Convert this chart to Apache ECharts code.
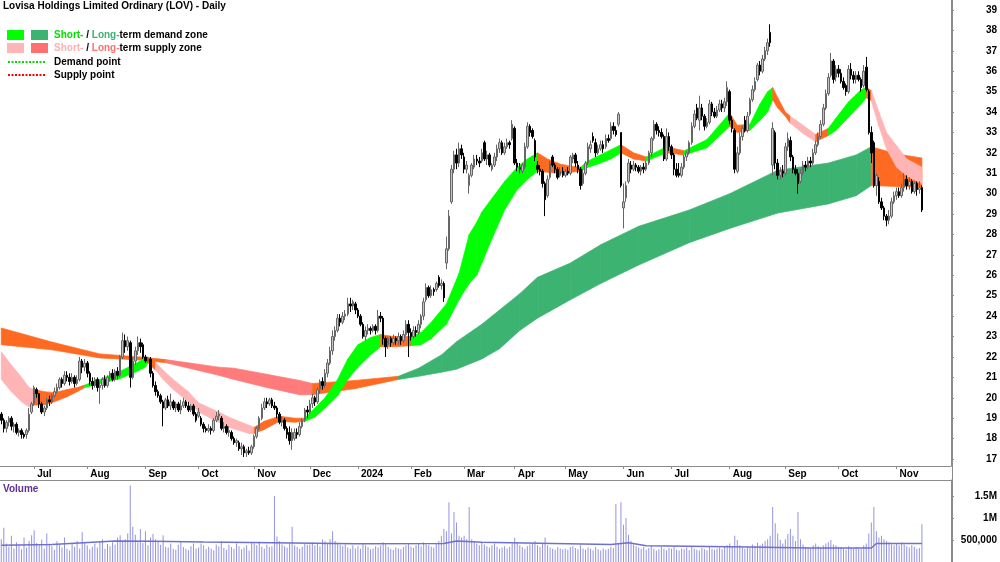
<!DOCTYPE html>
<html><head><meta charset="utf-8">
<script src="https://cdn.jsdelivr.net/npm/echarts@6.0.0/dist/echarts.min.js"></script>
<style>html,body{margin:0;padding:0;background:#fff}#c{width:1000px;height:562px}</style>
</head><body><div id="c"></div>
<script>
const TITLE = 'Lovisa Holdings Limited Ordinary (LOV) - Daily';
const holidays = ['2023-12-25','2023-12-26','2024-01-01','2024-01-26','2024-03-29','2024-04-01','2024-04-25','2024-06-10'];
const monthAbbr = ['Jan','Feb','Mar','Apr','May','Jun','Jul','Aug','Sep','Oct','Nov','Dec'];
const priceTicks = [17,18,19,20,21,22,23,24,25,26,27,28,29,30,31,32,33,34,35,36,37,38,39];
const volTicks = [500000,1000000,1500000];
const volTickLabels = {500000:'500,000',1000000:'1M',1500000:'1.5M'};

// OHLC rows: [open, close, low, high], grouped by month
const jun23 = [[19.2,18.9,18.7,19.3],[18.9,18.5,18.3,19.0],[18.5,18.8,18.3,18.9],[18.8,19.0,18.6,19.1],[19.0,18.6,18.4,19.1],[18.6,18.7,18.3,18.8],[18.7,18.3,18.2,18.8],[18.3,18.4,18.1,18.5],[18.4,18.2,18.0,18.5],[18.2,18.1,18.0,18.3],[18.2,18.4,18.0,18.5],[18.4,19.2,18.3,19.5],[19.3,19.7,19.2,19.8]];
const jul23 = [[19.7,20.5,19.6,20.6],[20.4,20.2,20.0,20.5],[20.2,19.7,19.5,20.2],[19.7,19.3,19.2,19.8],[19.3,19.5,19.1,19.6],[19.5,19.9,19.4,20.0],[19.9,19.8,19.6,20.1],[19.8,20.1,19.7,20.2],[20.1,20.3,20.0,20.5],[20.3,20.5,20.2,20.7],[20.5,20.9,20.4,21.0],[20.9,20.7,20.5,21.0],[20.7,21.1,20.6,21.3],[21.1,21.0,20.8,21.3],[21.0,20.8,20.6,21.2],[20.8,21.0,20.7,21.2],[21.0,20.7,20.5,21.1],[20.7,20.9,20.6,21.1],[20.9,21.8,20.8,22.0],[21.8,21.5,21.2,21.9],[21.5,21.7,21.3,21.9]];
const aug23 = [[21.7,21.2,21.0,21.8],[21.2,20.8,20.6,21.3],[20.8,20.6,20.4,21.0],[20.6,20.9,20.5,21.0],[20.9,20.5,20.3,21.0],[20.5,20.6,19.7,20.8],[20.6,20.9,20.4,21.0],[20.9,20.6,20.5,21.1],[20.6,21.0,20.5,21.1],[21.0,21.2,20.8,21.3],[21.2,20.9,20.8,21.4],[20.9,21.3,20.8,21.4],[21.3,21.1,20.9,21.5],[21.1,22.0,21.0,22.1],[22.0,22.8,21.9,23.2],[22.8,22.5,22.2,23.1],[22.5,22.8,22.3,23.0],[22.7,21.0,20.5,22.8],[21.0,21.8,20.9,22.0],[21.8,22.3,21.6,22.5],[22.3,22.7,22.1,23.0],[22.7,22.5,22.2,22.9],[22.6,22.0,21.9,22.7]];
const sep23 = [[22.0,21.8,21.7,22.1],[21.8,21.9,21.7,22.0],[21.9,21.2,21.0,22.0],[21.2,20.6,20.5,21.3],[20.6,20.3,20.1,20.8],[20.3,20.1,20.0,20.4],[20.1,19.8,19.7,20.2],[19.8,19.5,18.6,19.9],[19.5,19.9,19.4,20.0],[19.9,19.6,19.5,20.1],[19.6,19.8,19.4,20.2],[19.8,19.5,19.4,19.9],[19.5,19.7,19.3,19.8],[19.7,19.4,19.3,19.8],[19.4,19.6,19.2,19.9],[19.6,19.8,19.5,20.0],[19.8,19.6,19.5,19.9],[19.6,19.4,19.3,19.8],[19.4,19.6,19.3,19.7],[19.6,19.2,19.1,19.7],[19.2,18.9,18.8,19.3]];
const oct23 = [[19.1,19.3,19.0,19.5],[19.0,18.7,18.6,19.1],[18.7,18.5,18.3,18.8],[18.5,18.4,18.3,18.6],[18.4,18.5,18.3,18.7],[18.5,18.4,18.2,18.6],[18.4,18.9,18.3,19.0],[18.9,19.1,18.8,19.3],[19.1,19.2,18.9,19.4],[19.0,18.5,18.4,19.1],[18.5,18.6,18.3,18.8],[18.6,18.3,18.2,18.7],[18.3,18.4,18.1,18.6],[18.3,18.0,17.9,18.4],[18.0,17.8,17.7,18.1],[17.8,17.9,17.6,18.0],[17.8,17.5,17.4,17.9],[17.5,17.6,17.2,17.8],[17.6,17.3,17.1,17.7],[17.3,17.4,17.1,17.5],[17.4,17.3,17.2,17.6],[17.3,17.6,17.2,17.7]];
const nov23 = [[17.6,18.1,17.5,18.2],[18.1,18.5,18.0,18.6],[18.5,19.0,18.4,19.1],[19.0,19.5,18.9,19.7],[19.5,19.8,19.4,20.0],[19.8,19.7,19.5,20.0],[19.7,19.9,19.6,20.0],[19.9,19.6,19.5,20.0],[19.6,19.5,19.4,19.8],[19.5,19.2,19.0,19.6],[19.2,18.8,18.7,19.3],[18.8,18.9,18.6,19.1],[18.9,18.5,18.4,19.0],[18.5,18.2,18.0,18.6],[18.3,17.9,17.7,18.6],[17.9,18.3,17.45,18.5],[18.0,18.3,17.9,18.5],[18.3,18.2,18.0,18.5],[18.2,18.6,18.1,18.8],[18.6,18.9,18.5,19.0],[18.9,19.4,18.8,19.5],[19.4,19.3,19.0,19.6]];
const dec23 = [[19.3,19.7,19.2,19.9],[19.7,20.0,19.5,20.2],[20.0,19.8,19.6,20.1],[19.8,20.4,19.7,20.5],[20.4,20.8,20.2,20.9],[20.8,20.6,20.4,21.0],[20.6,21.2,20.5,21.4],[21.2,21.7,21.0,21.9],[21.7,22.3,21.6,22.5],[22.3,23.0,22.1,23.3],[23.0,23.3,22.8,23.5],[23.3,23.9,23.2,24.1],[23.9,23.7,23.5,24.1],[23.7,24.0,23.6,24.2],[24.0,24.1,23.8,24.3],[24.1,24.6,24.0,24.9],[24.6,24.5,24.2,24.9],[24.5,24.7,24.3,24.8],[24.6,24.3,24.1,24.7]];
const jan24 = [[24.3,24.0,23.9,24.4],[24.0,23.6,23.5,24.1],[23.6,23.0,22.9,23.7],[23.0,23.3,22.8,23.5],[23.3,23.4,23.1,23.6],[23.4,23.3,23.1,23.5],[23.3,23.5,23.2,23.6],[23.5,23.3,23.1,23.6],[23.3,24.0,23.2,24.3],[24.0,23.9,23.7,24.2],[23.9,22.9,22.6,24.0],[22.9,22.5,22.0,23.0],[22.6,22.9,22.4,23.0],[22.9,22.7,22.5,23.0],[22.7,22.9,22.6,23.1],[22.9,22.8,22.6,23.0],[22.8,23.0,22.6,23.2],[23.0,22.8,22.6,23.1],[22.8,23.1,22.7,23.3],[23.1,23.6,23.0,23.8],[23.6,23.2,22.0,23.8]];
const feb24 = [[23.2,23.0,22.8,23.4],[23.0,23.3,22.9,23.5],[23.3,23.2,23.0,23.5],[23.2,23.6,23.1,23.8],[23.6,24.0,23.4,24.1],[24.0,24.7,23.8,24.9],[24.8,25.4,24.7,25.6],[25.4,25.0,24.9,25.5],[25.0,25.3,24.9,25.5],[25.3,25.2,25.0,25.4],[25.3,25.6,25.2,25.7],[25.9,25.5,25.4,26.0],[25.5,25.6,25.3,25.8],[25.6,24.9,24.7,25.7],[26.6,27.3,26.3,27.9],[27.3,28.9,27.2,29.2],[29.6,31.2,29.5,31.4],[31.2,31.9,31.0,32.1],[31.9,31.5,31.2,32.2],[31.5,32.2,31.3,32.5],[32.2,31.9,31.7,32.4]];
const mar24 = [[31.8,31.2,31.0,32.0],[31.2,31.4,31.0,31.6],[30.4,30.9,30.0,31.0],[30.9,31.4,30.8,31.5],[31.3,31.7,31.2,31.9],[31.7,31.6,31.4,31.9],[31.6,31.5,31.3,31.8],[31.6,32.0,31.5,32.2],[32.5,31.7,31.6,32.6],[31.7,31.9,31.4,32.1],[31.9,31.4,31.3,32.0],[31.2,31.4,31.1,31.5],[31.4,31.8,31.3,32.0],[31.8,32.2,31.6,32.4],[32.2,32.5,32.0,32.7],[32.5,32.0,31.9,32.6],[32.0,32.3,31.9,32.5],[32.3,32.5,32.2,32.7],[32.5,32.4,32.2,32.6],[32.7,33.4,32.6,33.6]];
const apr24 = [[33.2,31.5,31.4,33.3],[31.5,31.3,31.1,31.7],[31.3,31.2,31.0,31.5],[31.1,31.4,31.0,31.5],[31.3,32.3,31.2,32.5],[32.3,33.3,32.2,33.5],[33.3,33.0,32.8,33.4],[33.1,32.8,32.7,33.2],[32.6,31.8,31.6,32.7],[31.4,31.2,31.0,31.6],[31.2,31.1,30.9,31.4],[31.1,30.5,30.3,31.2],[30.5,29.7,28.9,30.6],[29.9,30.7,29.8,30.9],[30.8,31.5,30.7,31.6],[31.8,31.4,31.3,31.9],[31.4,31.2,31.0,31.5],[31.2,30.8,30.7,31.3],[30.9,31.1,30.8,31.3],[31.1,30.9,30.8,31.3]];
const may24 = [[30.9,31.1,30.8,31.2],[31.1,31.0,30.9,31.3],[31.0,31.8,30.9,31.9],[31.7,31.9,31.5,32.0],[31.9,31.5,31.3,32.0],[31.4,31.2,31.0,31.6],[31.2,30.4,30.2,31.3],[30.5,31.0,30.4,31.2],[31.0,31.5,30.9,31.6],[31.5,32.3,31.4,32.5],[32.2,32.4,32.0,32.6],[32.8,32.6,32.5,33.0],[32.5,32.0,31.8,32.7],[32.0,32.2,31.9,32.4],[32.2,32.4,32.1,32.6],[32.4,32.2,32.0,32.6],[32.3,32.7,32.2,32.9],[32.7,32.6,32.5,32.9],[32.7,33.3,32.6,33.5],[33.3,33.1,32.9,33.5],[33.1,32.9,32.8,33.3],[33.4,33.9,33.3,34.0],[33.0,30.4,30.3,33.0]];
const jun24 = [[29.3,29.6,28.3,30.5],[29.8,30.4,29.6,30.6],[30.6,31.5,30.5,31.7],[31.4,31.2,31.0,31.6],[31.2,31.4,31.1,31.6],[31.4,31.3,31.1,31.5],[31.3,31.1,31.0,31.4],[31.1,31.3,30.9,31.4],[31.3,31.2,31.0,31.5],[31.2,31.5,31.1,31.6],[31.5,32.0,31.4,32.1],[32.0,32.7,31.8,32.8],[32.7,33.4,32.6,33.6],[33.4,33.1,32.9,33.5],[33.1,33.0,32.8,33.3],[33.0,32.8,32.7,33.2],[32.8,31.7,31.6,32.9],[31.7,32.8,31.6,33.2],[32.8,32.3,32.1,33.0]];
const jul24 = [[32.3,31.9,31.7,32.4],[31.9,31.2,30.9,32.0],[31.2,30.9,30.8,31.5],[31.0,30.9,30.8,31.5],[30.9,31.3,30.8,31.5],[31.3,31.8,31.2,31.9],[31.8,32.0,31.6,32.1],[32.0,32.5,31.9,32.6],[32.5,33.3,32.4,33.5],[33.3,33.9,33.2,34.1],[34.2,33.7,33.6,34.4],[33.6,34.2,33.1,34.8],[34.2,33.8,33.6,34.4],[33.8,33.3,33.1,33.9],[33.3,33.5,33.2,33.7],[33.5,34.4,33.4,34.6],[34.4,34.0,33.8,34.5],[34.0,33.8,33.7,34.2],[33.8,34.1,33.7,34.3],[34.1,34.4,34.0,34.6],[34.4,34.2,34.0,34.6],[34.2,34.5,34.0,34.7],[34.5,35.2,34.3,35.5]];
const aug24 = [[35.0,33.6,33.4,35.1],[33.6,33.2,33.0,33.8],[33.1,31.2,31.0,33.2],[31.1,32.0,31.0,32.3],[32.0,32.8,31.9,33.0],[32.8,33.2,32.6,33.3],[33.6,33.1,33.0,33.8],[33.1,33.8,33.0,34.0],[33.9,34.6,33.8,34.7],[34.6,35.1,34.5,35.3],[35.1,35.5,35.0,35.7],[35.6,36.3,35.5,36.4],[36.3,36.0,35.8,36.5],[36.0,36.6,35.9,36.8],[36.6,37.0,36.5,37.2],[37.0,37.4,36.8,37.6],[37.9,37.4,37.2,38.3],[31.4,33.2,30.9,33.5],[33.0,31.5,31.2,33.1],[31.5,30.9,30.7,31.7],[30.9,31.1,30.7,31.3],[31.1,31.0,30.8,31.4]];
const sep24 = [[31.0,32.3,30.9,32.5],[32.3,32.7,32.1,33.0],[32.6,31.8,31.6,32.8],[31.8,31.2,31.0,31.9],[31.2,31.0,30.9,31.4],[31.0,30.5,30.0,31.2],[30.6,31.0,30.5,31.2],[31.0,31.4,30.9,31.6],[31.4,31.3,31.1,31.6],[31.3,31.6,31.2,31.8],[31.6,31.5,31.3,31.8],[31.5,32.0,31.4,32.2],[32.0,32.4,31.9,32.6],[32.4,32.8,32.3,33.0],[32.8,33.4,32.7,33.6],[33.4,34.2,33.3,34.4],[34.2,34.9,34.1,35.1],[34.9,35.7,34.8,35.9],[35.8,36.5,35.7,36.9],[36.5,35.6,35.4,36.6],[35.7,36.1,35.5,36.3]];
const oct24 = [[36.1,35.9,35.7,36.3],[35.9,35.5,35.4,36.1],[35.5,35.2,35.1,35.7],[35.3,35.0,34.8,35.4],[35.0,36.1,34.9,36.3],[36.1,35.8,35.6,36.4],[35.8,35.6,35.4,36.0],[35.6,35.8,35.4,36.0],[35.8,35.6,35.5,36.0],[35.6,35.2,35.0,35.7],[35.3,36.0,35.2,36.3],[36.2,35.1,35.0,36.7],[35.0,33.0,32.9,35.1],[33.0,32.0,31.5,33.3],[32.5,30.4,30.3,32.6],[30.4,30.9,29.9,31.0],[30.6,29.6,29.5,30.8],[29.6,29.3,29.2,29.8],[29.3,28.9,28.7,29.4],[28.9,28.7,28.4,29.0],[28.7,28.9,28.5,29.2],[28.9,29.6,28.8,29.8],[29.6,29.9,29.5,30.1]];
const nov24 = [[29.9,30.1,29.7,30.3],[30.1,29.9,29.8,30.3],[29.9,30.3,29.8,30.5],[30.3,30.7,30.1,31.0],[30.7,30.4,30.2,30.9],[30.4,30.6,30.2,30.8],[30.6,30.1,30.0,30.7],[30.1,30.5,30.0,30.6],[30.5,30.2,29.9,30.6],[30.2,30.3,30.0,30.6],[30.3,29.2,29.1,30.4]];
const candles = [].concat(jun23,jul23,aug23,sep23,oct23,nov23,dec23,jan24,feb24,mar24,apr24,may24,jun24,jul24,aug24,sep24,oct24,nov24);

// Daily volume, thousands of shares, by month
const volumes = [].concat(
 [520,780,420,350,600,310,450,380,290,560,330,480,610],
 [720,430,380,510,300,650,420,360,280,470,390,330,560,300,260,420,350,480,310,680,440],
 [380,290,350,420,330,470,520,300,410,360,450,390,560,610,480,520,650,1740,800,620,450,750,430],
 [700,380,560,640,520,470,390,610,350,330,420,300,280,390,460,340,300,270,360,420,310],
 [330,420,380,290,350,310,270,400,360,470,320,280,390,340,300,420,360,290,330,380,260,450],
 [420,380,460,350,300,390,340,360,1500,580,470,400,360,330,420,800,380,340,300,350,420,390],
 [400,450,380,420,360,510,470,430,520,700,480,440,390,360,400,330,300,380,310],
 [360,300,420,380,340,290,310,360,330,380,450,400,350,300,280,330,310,290,340,380,420],
 [350,320,380,410,360,450,400,380,350,330,420,480,600,750,700,1360,650,1140,900,600,560],
 [600,520,1250,520,480,420,380,450,400,360,330,380,420,350,300,330,360,310,340,420],
 [550,450,380,340,300,360,400,420,480,380,350,420,560,380,330,300,280,340,310,290],
 [300,280,340,360,320,290,380,310,280,330,300,270,340,290,260,310,280,300,350,320,1320,420,1360],
 [850,1000,620,480,400,360,330,300,350,280,320,380,300,260,290,340,300,270,320],
 [300,350,280,260,310,290,330,270,350,300,280,260,320,290,270,340,300,280,310,330,290,350,380],
 [420,350,600,500,380,330,300,350,320,400,360,440,380,420,480,520,600,1250,880,650,500,420],
 [520,640,750,600,480,1140,520,400,350,330,300,380,420,360,330,380,420,450,500,400,380],
 [350,330,300,280,360,320,300,340,310,290,380,420,650,900,1250,700,560,600,520,480,450,400,380],
 [420,380,450,400,360,330,380,350,300,320,860]
);
// Volume average line knots: [day index, thousands]
const volAvg = [[0,380],[20,400],[45,480],[60,470],[80,455],[107,440],[140,417],[175,420],[180,477],[190,450],[241,400],[248,440],[255,370],[296,340],[319,318],[344,318],[346,420],[364,420]];

// Zone knots: [day index, lower edge, upper edge, state of following segment]
// D = demand, S = supply, T = transition
const shortZone = [[0,20.9,22.25,'S'],[4,20.3,21.6,'S'],[8,19.8,21.0,'S'],[11,19.55,20.5,'S'],[13,19.65,20.4,'T'],[17,19.65,20.3,'T'],[21,19.8,20.25,'T'],[26,20.05,20.4,'T'],[30,20.3,20.5,'T'],[33,20.5,20.62,'D'],[40,20.72,20.95,'D'],[47,20.95,21.3,'D'],[52,21.2,21.6,'D'],[57,21.5,21.95,'D'],[58,21.7,22.0,'T'],[61,21.35,21.75,'S'],[64,20.9,21.35,'S'],[68,20.4,20.9,'S'],[74,19.8,20.3,'S'],[78,19.3,19.75,'S'],[86,18.8,19.3,'S'],[90,18.55,19.05,'S'],[98,18.25,18.65,'S'],[100,18.25,18.55,'T'],[104,18.45,18.85,'T'],[110,18.85,19.1,'T'],[116,18.8,19.0,'T'],[120,18.85,19.0,'D'],[124,19.05,19.5,'D'],[128,19.5,20.0,'D'],[133,20.1,20.9,'D'],[137,20.9,21.9,'D'],[141,21.5,22.6,'D'],[146,22.1,22.95,'D'],[150,22.5,23.1,'T'],[155,22.5,23.0,'T'],[162,22.55,23.0,'D'],[166,22.6,23.2,'D'],[170,22.9,23.7,'D'],[176,23.6,24.6,'D'],[181,24.8,26.1,'D'],[185,25.6,28.0,'D'],[188,26.0,28.6,'D'],[190,26.6,29.1,'D'],[193,27.5,29.6,'D'],[199,29.2,30.6,'D'],[204,30.2,31.3,'D'],[208,30.7,31.7,'D'],[212,31.1,32.0,'T'],[216,31.05,31.7,'T'],[221,31.0,31.45,'T'],[225,31.05,31.35,'T'],[229,31.1,31.3,'D'],[232,31.3,31.6,'D'],[236,31.45,31.85,'D'],[241,31.7,32.15,'D'],[245,32.0,32.4,'T'],[250,31.7,32.0,'T'],[255,31.6,31.8,'D'],[263,32.0,32.3,'T'],[270,31.9,32.1,'D'],[279,32.25,32.65,'D'],[288,33.3,33.95,'T'],[291,33.0,33.35,'T'],[296,33.1,33.4,'D'],[300,33.6,34.4,'D'],[303,34.0,35.0,'D'],[305,34.6,35.2,'T'],[307,34.2,34.7,'T'],[310,33.8,34.0,'T'],[312,33.45,33.8,'S'],[317,32.95,33.35,'S'],[322,32.55,32.9,'T'],[327,32.85,33.2,'D'],[330,33.1,33.7,'D'],[335,33.75,34.5,'D'],[340,34.4,35.1,'D'],[342,34.7,35.2,'T'],[344,34.55,35.05,'S'],[347,33.3,34.0,'S'],[350,32.2,33.0,'S'],[354,31.3,32.35,'S'],[358,30.85,31.7,'S'],[364,30.5,31.3,'S']];
const longZone = [[0,22.6,23.42,'T'],[20,22.35,22.73,'T'],[39,21.95,22.15,'T'],[55,21.85,22.0,'T'],[65,21.72,21.87,'S'],[86,21.1,21.5,'S'],[92,20.9,21.45,'S'],[105,20.5,21.15,'S'],[118,20.15,20.85,'S'],[123,20.15,20.7,'T'],[140,20.45,20.85,'T'],[157,20.9,21.05,'D'],[165,21.05,21.45,'D'],[174,21.25,22.1,'D'],[180,21.4,22.75,'D'],[190,21.9,23.6,'D'],[197,22.4,24.3,'D'],[205,23.3,25.1,'D'],[212,23.9,25.9,'D'],[225,24.8,26.6,'D'],[237,25.6,27.5,'D'],[252,26.5,28.4,'D'],[272,27.6,29.2,'D'],[288,28.3,30.0,'D'],[307,29.05,31.15,'D'],[327,29.5,31.5,'D'],[338,29.9,31.9,'D'],[344,30.4,32.3,'T'],[354,30.35,31.95,'T'],[364,30.33,31.75,'T']];

const C = {stD:'#00FF00', stS:'#FFB5B5', T:'#FF6A22', ltD:'#3CB371', ltS:'#FF7A7A'};
const FONT = '"Liberation Sans", Arial, sans-serif';

// trading-day categories
function tradingDays(){
  const out=[]; let t=Date.UTC(2023,5,14); const end=Date.UTC(2024,10,15);
  while(t<=end){ const d=new Date(t); const wd=d.getUTCDay(); const s=d.toISOString().slice(0,10);
    if(wd!==0&&wd!==6&&holidays.indexOf(s)<0) out.push(s); t+=86400000; }
  return out;
}
const dates = tradingDays();
const cats = dates.slice();
for(let k=1;k<=11;k++) cats.push('pad'+k);
const monthStart = new Set();
for(let i=1;i<dates.length;i++){ if(dates[i].slice(5,7)!==dates[i-1].slice(5,7)) monthStart.add(i); }
const isMonthStart = (idx)=>monthStart.has(idx);
function monthLabel(v){ if(!/^\d{4}-/.test(v)) return ''; const m=+v.slice(5,7); return m===1 ? v.slice(0,4) : monthAbbr[m-1]; }

function zoneItems(z, kind){
  const out=[];
  for(let k=0;k<z.length-1;k++){
    const st=z[k][3];
    const code = st==='T' ? 2 : (kind==='st' ? (st==='D'?0:1) : (st==='D'?3:4));
    out.push([z[k][0],z[k][1],z[k][2],z[k+1][0],z[k+1][1],z[k+1][2],code]);
  }
  return out;
}
const palette=[C.stD,C.stS,C.T,C.ltD,C.ltS];
function renderZone(params, api){
  const a=api.coord([api.value(0),api.value(1)]), b=api.coord([api.value(0),api.value(2)]);
  const c=api.coord([api.value(3),api.value(5)]), d=api.coord([api.value(3),api.value(4)]);
  const col=palette[api.value(6)];
  return {type:'polygon', shape:{points:[a,b,c,d]}, style:{fill:col, stroke:col, lineWidth:0.7}};
}

const chart = echarts.init(document.getElementById('c'), null, {renderer:'canvas', width:1000, height:562});
const boldTxt = {fontFamily:FONT, fontWeight:'bold', fontSize:10, color:'#000'};
const option = {
  animation:false,
  backgroundColor:'#fff',
  grid:[{left:0,right:48,top:0,height:466},{left:0,right:48,top:480,height:84}],
  xAxis:[
    {type:'category', gridIndex:0, data:cats, boundaryGap:true,
     axisLine:{show:true,lineStyle:{color:'#8c8c8c',width:1}},
     axisTick:{show:true, interval:isMonthStart, alignWithLabel:true, length:3, lineStyle:{color:'#8c8c8c'}},
     axisLabel:Object.assign({show:true, interval:isMonthStart, formatter:monthLabel, align:'left', margin:3, padding:[0,0,0,3]}, boldTxt),
     splitLine:{show:false}},
    {type:'category', gridIndex:1, data:cats, boundaryGap:true, show:false}
  ],
  yAxis:[
    {type:'value', gridIndex:0, position:'right', min:16.657, max:39.49,
     axisLine:{show:true,lineStyle:{color:'#8c8c8c'}},
     axisTick:{show:true, customValues:priceTicks, length:3, lineStyle:{color:'#8c8c8c'}},
     axisLabel:Object.assign({customValues:priceTicks, align:'right', margin:46}, boldTxt),
     splitLine:{show:false}},
    {type:'value', gridIndex:1, position:'right', min:0, max:1866667,
     axisLine:{show:true,lineStyle:{color:'#8c8c8c'}},
     axisTick:{show:true, customValues:volTicks, length:3, lineStyle:{color:'#8c8c8c'}},
     axisLabel:Object.assign({customValues:volTicks, align:'right', margin:46, formatter:(v)=>volTickLabels[v]||''}, boldTxt),
     splitLine:{show:false}}
  ],
  series:[
    {type:'custom', name:'Long-term zone', xAxisIndex:0, yAxisIndex:0, z:1, clip:true,
     data:zoneItems(longZone,'lt'), encode:{x:[0,3], y:[1,2,4,5]}, renderItem:renderZone, silent:true},
    {type:'custom', name:'Short-term zone', xAxisIndex:0, yAxisIndex:0, z:2, clip:true,
     data:zoneItems(shortZone,'st'), encode:{x:[0,3], y:[1,2,4,5]}, renderItem:renderZone, silent:true},
    {type:'candlestick', name:'LOV', xAxisIndex:0, yAxisIndex:0, z:3, data:candles, barWidth:2,
     itemStyle:{color:'#c4c4c4', color0:'#000000', borderColor:'#666666', borderColor0:'#000000', borderWidth:1}},
    {type:'bar', name:'Volume', xAxisIndex:1, yAxisIndex:1, data:volumes.map(v=>v*1000), barWidth:1,
     itemStyle:{color:'#9393e3'}, silent:true},
    {type:'line', name:'Volume average', xAxisIndex:1, yAxisIndex:1, data:volAvg.map(p=>[p[0],p[1]*1000]),
     showSymbol:false, symbol:'none', lineStyle:{color:'#6f6fcf', width:1.5}, z:4, silent:true}
  ],
  graphic:[
    {type:'text', x:3, y:1, style:{text:TITLE, font:'bold 10px '+FONT, fill:'#000'}},
    {type:'rect', shape:{x:7,y:30,width:17,height:10}, style:{fill:C.stD}},
    {type:'rect', shape:{x:31,y:30,width:17,height:10}, style:{fill:C.ltD}},
    {type:'rect', shape:{x:7,y:43,width:17,height:10}, style:{fill:C.stS}},
    {type:'rect', shape:{x:31,y:43,width:17,height:10}, style:{fill:'#FF7070'}},
    {type:'line', shape:{x1:8,y1:62,x2:45,y2:62}, style:{stroke:'#00DD00', lineWidth:2, lineDash:[2,1.5]}},
    {type:'line', shape:{x1:8,y1:75,x2:45,y2:75}, style:{stroke:'#FF0000', lineWidth:2, lineDash:[2,1.5]}},
    {type:'text', x:54, y:35, style:{text:'{a|Short-} / {b|Long-}term demand zone', font:'bold 10px '+FONT, fill:'#000', verticalAlign:'middle',
      rich:{a:{fill:'#00E000',color:'#00E000',fontWeight:'bold',fontSize:10,fontFamily:FONT}, b:{fill:'#3CB371',color:'#3CB371',fontWeight:'bold',fontSize:10,fontFamily:FONT}}}},
    {type:'text', x:54, y:48, style:{text:'{a|Short-} / {b|Long-}term supply zone', font:'bold 10px '+FONT, fill:'#000', verticalAlign:'middle',
      rich:{a:{fill:'#FFB0B0',color:'#FFB0B0',fontWeight:'bold',fontSize:10,fontFamily:FONT}, b:{fill:'#FF7070',color:'#FF7070',fontWeight:'bold',fontSize:10,fontFamily:FONT}}}},
    {type:'text', x:54, y:62, style:{text:'Demand point', font:'bold 10px '+FONT, fill:'#000', verticalAlign:'middle'}},
    {type:'text', x:54, y:75, style:{text:'Supply point', font:'bold 10px '+FONT, fill:'#000', verticalAlign:'middle'}},
    {type:'text', x:3, y:484, style:{text:'Volume', font:'bold 10px '+FONT, fill:'#5E2F96'}},
    {type:'line', shape:{x1:0,y1:480.5,x2:952,y2:480.5}, style:{stroke:'#8c8c8c', lineWidth:1}},
    {type:'line', shape:{x1:952.5,y1:0,x2:952.5,y2:562}, style:{stroke:'#8c8c8c', lineWidth:1}}
  ]
};
chart.setOption(option);
</script>
</body></html>
